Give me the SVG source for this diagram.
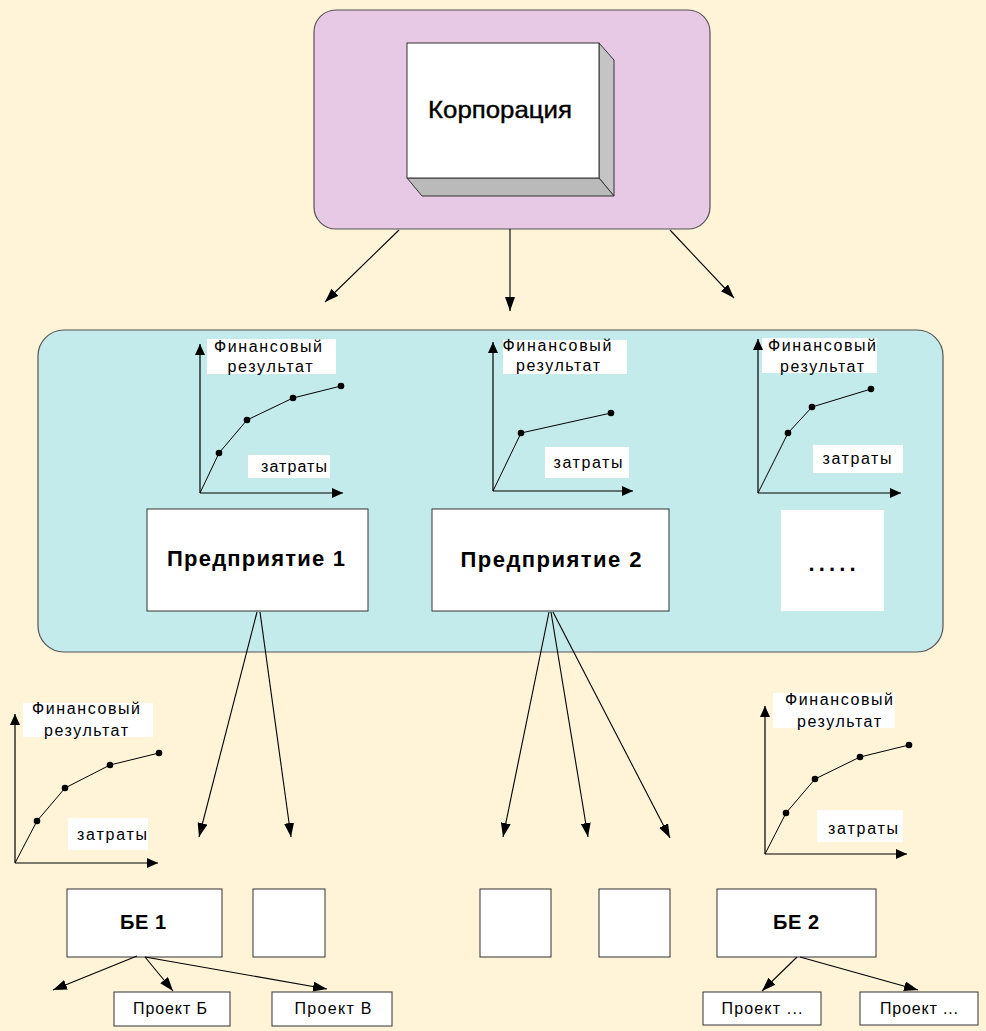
<svg xmlns="http://www.w3.org/2000/svg" width="986" height="1031" viewBox="0 0 986 1031">
<defs>
<style>
.bg{fill:#FFF3D8}
.box{fill:#FFFFFF;stroke:#333333;stroke-width:1}
.lbl{fill:#FFFFFF}
.t{font-family:"Liberation Sans",Arial,sans-serif;fill:#000}
.cl{font-size:16px;text-anchor:middle}
.bt{font-weight:bold;text-anchor:middle}
.ax{stroke:#000;stroke-width:1.2;fill:none}
.cv{stroke:#000;stroke-width:1;fill:none}
.dot{fill:#000}
.con{stroke:#000;stroke-width:1.1;fill:none}
</style>
<marker id="ah" markerUnits="userSpaceOnUse" markerWidth="15" markerHeight="10" refX="14" refY="5" orient="auto">
<path d="M0,0 L14,5 L0,10 z" fill="#000"/>
</marker>
<marker id="axh" markerUnits="userSpaceOnUse" markerWidth="12" markerHeight="10" refX="11" refY="5" orient="auto">
<path d="M0,0 L11,5 L0,10 z" fill="#000"/>
</marker>
</defs>
<rect class="bg" x="0" y="0" width="986" height="1031"/>

<g id="corporation-container">
<rect x="314" y="10" width="396" height="219" rx="22" ry="22" fill="#E7C9E5" stroke="#555" stroke-width="1.2"/>
</g>
<g id="corporation">
<polygon points="599,43 614,60 614,196 599,178" fill="#C4C4C4" stroke="#333" stroke-width="1"/>
<polygon points="407,178 599,178 614,196 422,196" fill="#BABABA" stroke="#333" stroke-width="1"/>
<rect class="box" x="407" y="43" width="192" height="135"/>
<text class="t" x="500" y="118" font-size="24" text-anchor="middle" stroke="#000" stroke-width="0.4" textLength="144" lengthAdjust="spacingAndGlyphs">Корпорация</text>
</g>

<g id="enterprises-container">
<rect x="38" y="330" width="905" height="322" rx="26" ry="26" fill="#C3EBEB" stroke="#555" stroke-width="1.2"/>
</g>

<g id="chart-1">
<rect class="lbl" x="207" y="339" width="129" height="35"/>
<rect class="lbl" x="248" y="455" width="82" height="23"/>
<text class="t cl" x="268" y="352" textLength="108" lengthAdjust="spacing">Финансовый</text>
<text class="t cl" x="270" y="372" textLength="85" lengthAdjust="spacing">результат</text>
<text class="t cl" x="294" y="472" textLength="66" lengthAdjust="spacing">затраты</text>
<line class="ax" x1="200" y1="493" x2="200" y2="344" marker-end="url(#axh)"/>
<line class="ax" x1="200" y1="493" x2="343" y2="493" marker-end="url(#axh)"/>
<polyline class="cv" points="200,493 219,453 247,420 293,398 341,386"/>
<circle class="dot" cx="219" cy="453" r="3.3"/><circle class="dot" cx="247" cy="420" r="3.3"/><circle class="dot" cx="293" cy="398" r="3.3"/><circle class="dot" cx="341" cy="386" r="3.3"/>
</g>

<g id="chart-2">
<rect class="lbl" x="503" y="340" width="124" height="34"/>
<rect class="lbl" x="545" y="447" width="84" height="31"/>
<text class="t cl" x="557" y="351" textLength="109" lengthAdjust="spacing">Финансовый</text>
<text class="t cl" x="558" y="371" textLength="84" lengthAdjust="spacing">результат</text>
<text class="t cl" x="588" y="468" textLength="69" lengthAdjust="spacing">затраты</text>
<line class="ax" x1="493" y1="491" x2="493" y2="342" marker-end="url(#axh)"/>
<line class="ax" x1="493" y1="491" x2="633" y2="491" marker-end="url(#axh)"/>
<polyline class="cv" points="493,491 521,433 611,413"/>
<circle class="dot" cx="521" cy="433" r="3.3"/><circle class="dot" cx="611" cy="413" r="3.3"/>
</g>

<g id="chart-3">
<rect class="lbl" x="762" y="338" width="115" height="35"/>
<rect class="lbl" x="813" y="445" width="90" height="28"/>
<text class="t cl" x="822" y="351" textLength="108" lengthAdjust="spacing">Финансовый</text>
<text class="t cl" x="822" y="372" textLength="84" lengthAdjust="spacing">результат</text>
<text class="t cl" x="857" y="464" textLength="69" lengthAdjust="spacing">затраты</text>
<line class="ax" x1="758" y1="493" x2="758" y2="339" marker-end="url(#axh)"/>
<line class="ax" x1="758" y1="493" x2="901" y2="493" marker-end="url(#axh)"/>
<polyline class="cv" points="758,493 788,433 812,407 871,389"/>
<circle class="dot" cx="788" cy="433" r="3.3"/><circle class="dot" cx="812" cy="407" r="3.3"/><circle class="dot" cx="871" cy="389" r="3.3"/>
</g>

<g id="enterprise-1">
<rect class="box" x="147" y="509" width="221" height="102"/>
<text class="t bt" x="256" y="566" font-size="22" textLength="178" lengthAdjust="spacing">Предприятие 1</text>
</g>
<g id="enterprise-2">
<rect class="box" x="432" y="509" width="237" height="102"/>
<text class="t bt" x="551" y="567" font-size="22" textLength="181" lengthAdjust="spacing">Предприятие 2</text>
</g>
<g id="enterprise-more">
<rect x="781" y="510" width="103" height="101" fill="#FFFFFF"/>
<text class="t bt" x="832" y="571" font-size="22" textLength="47" lengthAdjust="spacing">.....</text>
</g>

<g id="chart-4">
<rect class="lbl" x="23" y="703" width="130" height="34"/>
<rect class="lbl" x="68" y="818" width="80" height="32"/>
<text class="t cl" x="86" y="714" textLength="108" lengthAdjust="spacing">Финансовый</text>
<text class="t cl" x="86" y="736" textLength="84" lengthAdjust="spacing">результат</text>
<text class="t cl" x="112" y="840" textLength="70" lengthAdjust="spacing">затраты</text>
<line class="ax" x1="15" y1="863" x2="15" y2="714" marker-end="url(#axh)"/>
<line class="ax" x1="15" y1="863" x2="158" y2="863" marker-end="url(#axh)"/>
<polyline class="cv" points="15,863 37,821 65,788 110,765 159,753"/>
<circle class="dot" cx="37" cy="821" r="3.3"/><circle class="dot" cx="65" cy="788" r="3.3"/><circle class="dot" cx="110" cy="765" r="3.3"/><circle class="dot" cx="159" cy="753" r="3.3"/>
</g>

<g id="chart-5">
<rect class="lbl" x="773" y="693" width="122" height="35"/>
<rect class="lbl" x="817" y="810" width="86" height="32"/>
<text class="t cl" x="839" y="705" textLength="108" lengthAdjust="spacing">Финансовый</text>
<text class="t cl" x="839" y="727" textLength="84" lengthAdjust="spacing">результат</text>
<text class="t cl" x="863" y="834" textLength="70" lengthAdjust="spacing">затраты</text>
<line class="ax" x1="765" y1="854" x2="765" y2="706" marker-end="url(#axh)"/>
<line class="ax" x1="765" y1="854" x2="907" y2="854" marker-end="url(#axh)"/>
<polyline class="cv" points="765,854 786,813 815,779 860,757 909,745"/>
<circle class="dot" cx="786" cy="813" r="3.3"/><circle class="dot" cx="815" cy="779" r="3.3"/><circle class="dot" cx="860" cy="757" r="3.3"/><circle class="dot" cx="909" cy="745" r="3.3"/>
</g>

<g id="be-1">
<rect class="box" x="67" y="889" width="155" height="68"/>
<text class="t bt" x="143" y="929" font-size="20" textLength="46" lengthAdjust="spacing">БЕ 1</text>
</g>
<g id="unit-a">
<rect class="box" x="253" y="889" width="72" height="68"/>
</g>
<g id="unit-b">
<rect class="box" x="480" y="889" width="71" height="68"/>
</g>
<g id="unit-c">
<rect class="box" x="599" y="889" width="71" height="68"/>
</g>
<g id="be-2">
<rect class="box" x="717" y="889" width="159" height="68"/>
<text class="t bt" x="796" y="929" font-size="20" textLength="46" lengthAdjust="spacing">БЕ 2</text>
</g>
<g id="project-b">
<rect class="box" x="114" y="992" width="116" height="34"/>
<text class="t cl" x="170" y="1014" textLength="74" lengthAdjust="spacing">Проект Б</text>
</g>
<g id="project-v">
<rect class="box" x="272" y="992" width="120" height="34"/>
<text class="t cl" x="333" y="1014" textLength="77" lengthAdjust="spacing">Проект В</text>
</g>
<g id="project-1">
<rect class="box" x="703" y="992" width="118" height="33"/>
<text class="t cl" x="762" y="1014" textLength="81" lengthAdjust="spacing">Проект ...</text>
</g>
<g id="project-2">
<rect class="box" x="860" y="992" width="118" height="33"/>
<text class="t cl" x="919" y="1014" textLength="78" lengthAdjust="spacing">Проект ...</text>
</g>

<g id="connectors">
<line class="con" x1="399" y1="230" x2="325" y2="302" marker-end="url(#ah)"/>
<line class="con" x1="510" y1="229" x2="510" y2="311" marker-end="url(#ah)"/>
<line class="con" x1="670" y1="230" x2="734" y2="298" marker-end="url(#ah)"/>
<line class="con" x1="257" y1="612" x2="199" y2="837" marker-end="url(#ah)"/>
<line class="con" x1="260" y1="612" x2="291" y2="837" marker-end="url(#ah)"/>
<line class="con" x1="549" y1="612" x2="503" y2="837" marker-end="url(#ah)"/>
<line class="con" x1="551" y1="612" x2="588" y2="837" marker-end="url(#ah)"/>
<line class="con" x1="553" y1="612" x2="670" y2="838" marker-end="url(#ah)"/>
<line class="con" x1="137" y1="956" x2="53" y2="990" marker-end="url(#ah)"/>
<line class="con" x1="145" y1="957" x2="173" y2="991" marker-end="url(#ah)"/>
<line class="con" x1="145" y1="957" x2="327" y2="989" marker-end="url(#ah)"/>
<line class="con" x1="797" y1="957" x2="762" y2="991" marker-end="url(#ah)"/>
<line class="con" x1="800" y1="957" x2="918" y2="990" marker-end="url(#ah)"/>
</g>
</svg>
